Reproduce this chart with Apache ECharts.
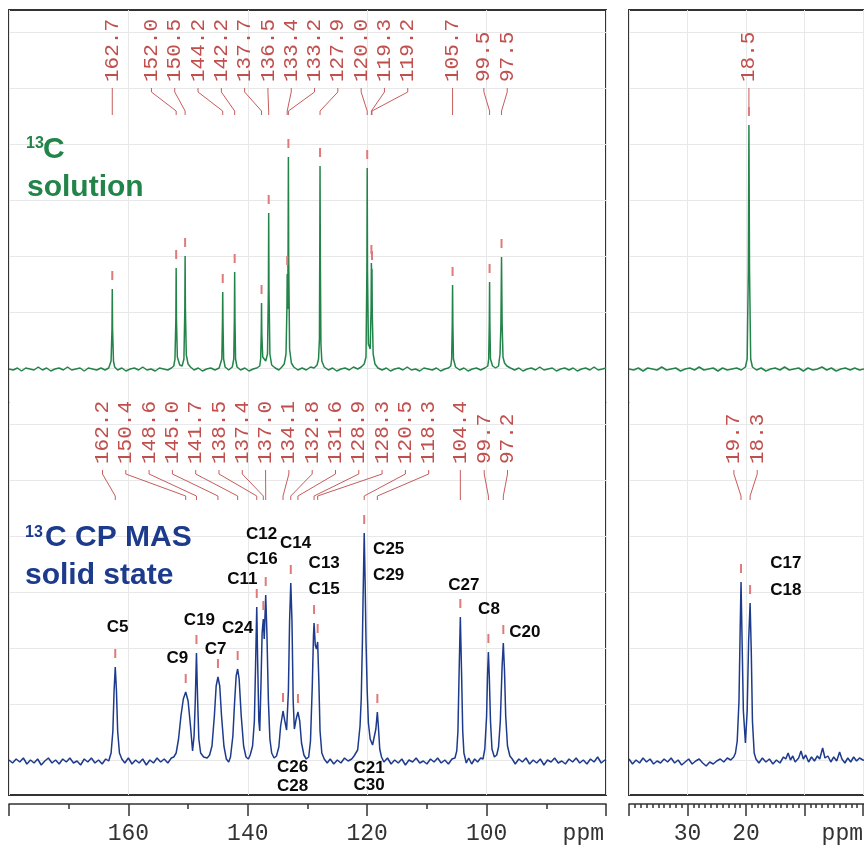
<!DOCTYPE html>
<html>
<head>
<meta charset="utf-8">
<script src="https://cdn.jsdelivr.net/npm/echarts@6/dist/echarts.min.js"></script>
<style>html,body{margin:0;padding:0;background:#fff}#nmr{width:864px;height:849px}</style>
</head>
<body>
<div id="nmr"></div>
<script>
// 13C spectra, [ppm, intensity]; intensity 0 = baseline of each trace
var solutionLeft = [
  [180,0],[179.3,-1],[178.6,1],[177.9,-2],[177.2,1],[176.5,0],[175.8,-1],[175.1,2],[174.4,-1],[173.7,1],[173.0,-2],[172.3,0],
  [171.6,1],[170.9,-1],[170.2,2],[169.5,-1],[168.8,0],[168.1,1],[167.4,-2],[166.7,1],[166.0,0],[165.3,-1],[164.6,1],[163.9,-1],[163.3,1],
  [163.1,2],[162.9,8],[162.75,40],[162.7,80],[162.65,40],[162.5,8],[162.3,2],
  [161.8,-1],[161.1,1],[160.4,-2],[159.7,0],[159.0,1],[158.3,-1],[157.6,2],[156.9,-1],[156.2,0],[155.5,-2],[154.8,1],[154.1,0],[153.4,-1],[152.8,1],[152.4,3],
  [152.2,10],[152.05,50],[152.0,101],[151.95,50],[151.8,12],[151.4,4],[151.0,3],[150.7,10],[150.55,60],[150.5,113],[150.45,60],[150.3,14],[150.0,5],[149.6,2],
  [149.0,-1],[148.3,1],[147.6,-2],[146.9,0],[146.2,1],[145.5,-1],[144.8,1],[144.5,3],
  [144.35,10],[144.25,45],[144.2,77],[144.15,45],[144.05,10],[143.8,2],[143.2,-1],[142.6,2],
  [142.35,10],[142.25,50],[142.2,97],[142.15,50],[142.05,10],[141.8,2],[141.2,-1],[140.5,1],[139.8,-2],[139.1,0],[138.5,1],[138.0,3],
  [137.85,10],[137.75,35],[137.7,66],[137.65,35],[137.5,12],[137.0,8],[136.7,15],[136.55,80],[136.5,156],[136.45,80],[136.3,15],[136.0,4],
  [135.4,1],[134.8,-1],[134.3,2],[133.9,5],
  [133.6,15],[133.45,60],[133.4,95],[133.32,60],[133.25,120],[133.2,212],[133.15,110],[133.0,20],[132.7,6],[132.3,2],
  [131.6,-1],[130.9,1],[130.2,-1],[129.5,2],[128.9,1],[128.4,4],
  [128.15,10],[128.0,30],[127.95,110],[127.9,203],[127.85,110],[127.75,25],[127.6,8],[127.2,2],
  [126.5,-1],[125.8,1],[125.1,-2],[124.4,0],[123.7,1],[123.0,-1],[122.3,2],[121.6,0],[121.0,2],[120.5,5],
  [120.2,12],[120.05,100],[120.0,201],[119.95,100],[119.8,25],[119.5,20],[119.35,60],[119.3,106],[119.25,95],[119.2,100],[119.15,55],[119.0,15],[118.7,5],
  [118.2,1],[117.5,-1],[116.8,1],[116.1,-2],[115.4,0],[114.7,1],[114.0,-1],[113.3,2],[112.6,-1],[111.9,0],[111.2,-2],[110.5,1],[109.8,0],
  [109.1,-1],[108.4,1],[107.7,-2],[107.0,0],[106.4,1],[106.0,3],
  [105.85,10],[105.75,45],[105.7,84],[105.65,45],[105.55,10],[105.2,2],[104.5,-1],[103.8,1],[103.1,-2],[102.4,0],[101.7,1],[101.0,-1],[100.3,1],[99.8,3],
  [99.65,10],[99.55,45],[99.5,87],[99.45,45],[99.35,10],[99.0,3],[98.5,1],[98.0,3],[97.75,15],
  [97.6,45],[97.5,112],[97.4,45],[97.25,12],[97.0,6],[96.6,3],[96.0,1],[95.3,-1],[94.6,1],[93.9,-2],[93.2,0],[92.5,1],[91.8,-1],[91.1,2],
  [90.4,-1],[89.7,0],[89.0,1],[88.3,-2],[87.6,0],[86.9,1],[86.2,-1],[85.5,1],[84.8,-2],[84.1,0],[83.4,1],[82.7,-1],[82.0,2],[81.3,-1],[80.6,0],[80,1]
];
var solutionRight = [
  [40,0],[39.2,-1],[38.4,1],[37.6,-2],[36.8,1],[36.0,0],[35.2,-1],[34.4,2],[33.6,-1],[32.8,0],[32.0,1],[31.2,-2],[30.4,0],[29.6,1],
  [28.8,-1],[28.0,2],[27.2,-1],[26.4,0],[25.6,1],[24.8,-2],[24.0,1],[23.2,-1],[22.4,0],[21.6,1],[20.8,-1],[20.1,2],
  [19.8,10],[19.6,100],[19.5,244],[19.4,100],[19.2,10],[18.9,2],
  [18.2,-1],[17.4,1],[16.6,-2],[15.8,0],[15.0,1],[14.2,-1],[13.4,2],[12.6,-1],[11.8,0],[11.0,1],[10.2,-2],[9.4,1],[8.6,-1],[7.8,0],
  [7.0,2],[6.2,-1],[5.4,1],[4.6,-2],[3.8,0],[3.0,1],[2.2,-1],[1.4,1],[0.6,-1],[-0.2,0],[-1,1]
];
var solidLeft = [
  [180,1],[179.4,-2],[178.8,2],[178.2,-1],[177.6,3],[177.0,-3],[176.4,1],[175.8,-2],[175.2,2],[174.6,-4],[174.0,0],[173.4,3],[172.8,-2],
  [172.2,1],[171.6,-3],[171.0,2],[170.4,-1],[169.8,3],[169.2,-2],[168.6,0],[168.0,-4],[167.4,2],[166.8,-1],[166.2,3],[165.6,-2],[165.0,1],
  [164.4,-3],[163.8,2],[163.3,0],
  [162.9,8],[162.6,30],[162.4,70],[162.2,94],[162.0,70],[161.8,30],[161.5,8],[161.1,2],
  [160.6,-2],[160.0,3],[159.4,-3],[158.8,1],[158.2,-2],[157.6,2],[157.0,-4],[156.4,1],[155.8,-2],[155.2,3],[154.6,-1],[154.0,2],[153.4,-2],[152.8,3],[152.4,4],
  [152.0,8],[151.6,22],[151.2,45],[150.8,62],[150.4,69],[150.0,60],[149.6,35],[149.25,10],
  [149.0,25],[148.8,60],[148.6,108],[148.4,60],[148.2,22],[147.9,8],[147.4,4],[146.8,3],[146.4,6],
  [146.0,15],[145.6,45],[145.3,75],[145.0,84],[144.7,75],[144.4,45],[144.0,15],[143.6,2],[143.2,-1],[142.9,4],
  [142.5,25],[142.2,60],[141.95,85],[141.7,92],[141.45,82],[141.1,45],[140.7,15],[140.3,4],[139.9,2],[139.6,6],
  [139.2,15],[138.9,40],[138.7,95],[138.5,154],[138.35,100],[138.15,40],[138.0,30],[137.8,75],[137.6,128],[137.4,142],[137.25,122],[137.0,166],
  [136.8,128],[136.55,60],[136.3,22],[136.0,8],[135.6,3],[135.2,5],
  [134.8,14],[134.5,35],[134.1,50],[133.8,40],[133.5,31],[133.2,70],[133.0,140],[132.8,178],[132.6,140],[132.4,60],[132.2,32],[131.9,42],
  [131.6,49],[131.3,40],[131.0,18],[130.6,6],[130.2,2],[129.8,4],
  [129.5,20],[129.2,75],[129.0,125],[128.9,138],[128.7,116],[128.5,112],[128.3,119],[128.1,80],[127.9,30],[127.6,8],[127.2,2],
  [126.7,-2],[126.2,2],[125.6,-3],[125.0,1],[124.4,-2],[123.8,3],[123.2,0],[122.6,2],
  [122.2,5],[121.6,11],[121.2,35],[121.0,62],[120.8,120],[120.7,160],[120.5,228],[120.35,180],[120.2,120],[120.0,70],[119.8,38],[119.5,22],
  [119.1,16],[118.8,18],[118.55,32],[118.3,49],[118.1,32],[117.9,12],[117.6,4],[117.2,-1],
  [116.6,3],[116.0,-3],[115.4,1],[114.8,-2],[114.2,2],[113.6,-4],[113.0,1],[112.4,-1],[111.8,3],[111.2,-2],[110.6,0],[110.0,-3],[109.4,2],
  [108.8,-1],[108.2,3],[107.6,-2],[107.0,1],[106.4,-3],[105.8,2],[105.3,3],
  [105.0,10],[104.8,30],[104.6,90],[104.4,144],[104.2,90],[104.0,30],[103.8,8],[103.4,-2],[103.0,3],[102.5,-3],[102.0,2],[101.5,-1],[101.0,3],[100.6,2],
  [100.3,12],[100.0,45],[99.85,85],[99.7,109],[99.55,85],[99.35,40],[99.1,12],[98.7,4],[98.3,6],
  [98.0,14],[97.7,40],[97.4,95],[97.2,118],[97.0,90],[96.8,45],[96.5,15],[96.1,5],[95.7,2],
  [95.2,-3],[94.6,2],[94.0,-1],[93.4,3],[92.8,-3],[92.2,1],[91.6,-2],[91.0,2],[90.4,-4],[89.8,1],[89.2,-1],[88.6,3],[88.0,-2],[87.4,0],
  [86.8,-3],[86.2,2],[85.6,-1],[85.0,3],[84.4,-2],[83.8,1],[83.2,-3],[82.6,2],[82.0,-1],[81.4,4],[80.8,-2],[80.2,1],[80,0]
];
var solidRight = [
  [40,2],[39.4,-3],[38.8,1],[38.2,-2],[37.6,3],[37.0,-1],[36.4,2],[35.8,-3],[35.2,0],[34.6,-2],[34.0,2],[33.4,-1],[32.8,3],[32.2,-2],
  [31.6,1],[31.0,-4],[30.4,-1],[29.8,2],[29.2,-3],[28.6,0],[28.0,2],[27.4,-2],[26.8,-5],[26.2,-1],[25.6,-3],[25.0,0],[24.4,2],[23.8,-1],
  [23.2,3],[22.6,1],[22.1,4],[21.8,8],[21.5,20],[21.2,60],[21.0,130],[20.85,179],[20.7,130],[20.45,50],[20.1,18],[19.8,50],[19.55,120],
  [19.3,158],[19.1,110],[18.9,40],[18.6,8],[18.3,2],[17.8,-2],[17.2,3],[16.6,-1],[16.0,2],[15.4,-3],[14.8,1],[14.2,-2],[13.6,4],[13.2,2],
  [12.8,8],[12.4,1],[12.0,5],[11.6,-1],[11.0,3],[10.6,10],[10.2,2],[9.8,6],[9.3,-1],[8.8,4],[8.3,0],[7.8,5],[7.4,2],[6.9,13],[6.5,3],
  [6.0,5],[5.5,-1],[5.0,4],[4.5,0],[4.0,9],[3.6,2],[3.1,-2],[2.6,3],[2.1,-1],[1.6,4],[1.1,0],[0.6,3],[0,1],[-1,0]
];

// picked peaks: position, height, printed shift
var solPeakLeft = [162.7,152.0,150.5,144.2,142.2,137.7,136.5,133.4,133.2,127.9,120.0,119.3,119.2,105.7,99.5,97.5];
var solHeightLeft = [80,101,113,77,97,66,156,95,212,203,201,106,100,84,87,112];
var solTextLeft = ['162.7','152.0','150.5','144.2','142.2','137.7','136.5','133.4','133.2','127.9','120.0','119.3','119.2','105.7','99.5','97.5'];
var solPeakRight = [19.5];
var solHeightRight = [244];
var solTextRight = ['18.5'];

var cpPeakLeft = [162.2,150.4,148.6,145.0,141.7,138.5,137.4,137.0,134.1,132.8,131.6,128.9,128.3,120.5,118.3,104.4,99.7,97.2];
var cpHeightLeft = [94,69,108,84,92,154,142,166,50,178,49,138,119,228,49,144,109,118];
var cpTextLeft = ['162.2','150.4','148.6','145.0','141.7','138.5','137.4','137.0','134.1','132.8','131.6','128.9','128.3','120.5','118.3','104.4','99.7','97.2'];
var cpPeakRight = [20.85,19.3];
var cpHeightRight = [179,158];
var cpTextRight = ['19.7','18.3'];

// carbon assignments [name, ppm, intensity]
var carbonLeft = [['C5',161.8,134],['C9',151.8,103],['C19',148.1,141],['C7',145.4,112],['C24',141.7,133],['C11',140.9,182],
  ['C16',137.6,202],['C12',137.7,227],['C14',132.0,218],['C13',127.2,198],['C15',127.2,172],['C25',116.4,212],['C29',116.4,186],
  ['C27',103.8,176],['C8',99.6,152],['C20',93.6,129],['C26',132.5,-6],['C28',132.5,-25],['C21',119.7,-7],['C30',119.7,-24]];
var carbonRight = [['C17',13.2,198],['C18',13.2,171]];

var GREEN = '#23844a', BLUE = '#1d3b8c', RED = '#c0504d';

// push crowded labels apart, keeping each cluster centred on its peaks
function spreadOut(xs, gap) {
  var order = xs.map(function (x, i) { return i; }).sort(function (a, b) { return xs[a] - xs[b]; });
  var groups = [];
  order.forEach(function (idx) {
    groups.push({ ids: [idx], mean: xs[idx] });
    while (groups.length > 1) {
      var b = groups[groups.length - 1], a = groups[groups.length - 2];
      var aEnd = a.mean + (a.ids.length - 1) * gap / 2;
      var bStart = b.mean - (b.ids.length - 1) * gap / 2;
      if (bStart - aEnd >= gap) break;
      var ids = a.ids.concat(b.ids);
      groups.splice(groups.length - 2, 2, { ids: ids, mean: (a.mean * a.ids.length + b.mean * b.ids.length) / ids.length });
    }
  });
  var out = [];
  groups.forEach(function (g) {
    g.ids.forEach(function (id, k) { out[id] = g.mean + (k - (g.ids.length - 1) / 2) * gap; });
  });
  return out;
}

function peakLabels(xIdx, yIdx, ppm, height, text, level, reach) {
  return {
    type: 'custom', xAxisIndex: xIdx, yAxisIndex: yIdx, silent: true, z: 6,
    data: ppm.map(function (p, i) { return [p, height[i]]; }),
    renderItem: function (params, api) {
      var xs = ppm.map(function (p) { return api.coord([p, 0])[0]; });
      var lx = spreadOut(xs, 23.3)[params.dataIndex];
      var top = api.coord([api.value(0), api.value(1)]);
      var y0 = api.coord([api.value(0), level])[1];
      return { type: 'group', children: [
        { type: 'text', x: lx, y: y0 - 6, rotation: Math.PI / 2,
          style: { text: text[params.dataIndex], fill: RED, fontSize: 21, fontFamily: 'Liberation Mono', align: 'left', verticalAlign: 'middle' } },
        { type: 'polyline', shape: { points: [[lx, y0], [lx, y0 + 4], [top[0], y0 + reach - 4], [top[0], y0 + reach]] },
          style: { stroke: '#c65c5c', lineWidth: 1, fill: null } },
        { type: 'line', shape: { x1: top[0], y1: top[1] - 18, x2: top[0], y2: top[1] - 9 },
          style: { stroke: '#e07a7a', lineWidth: 2 } }
      ]};
    }
  };
}

function trace(data, xIdx, yIdx, color) {
  return { type: 'line', xAxisIndex: xIdx, yAxisIndex: yIdx, data: data, symbol: 'none', showSymbol: false,
    silent: true, z: 3, lineStyle: { color: color, width: 1.5 } };
}

function carbons(list, xIdx, yIdx) {
  return { type: 'custom', xAxisIndex: xIdx, yAxisIndex: yIdx, silent: true, z: 7,
    data: list.map(function (c) { return [c[1], c[2]]; }),
    renderItem: function (params, api) {
      var p = api.coord([api.value(0), api.value(1)]);
      return { type: 'text', x: p[0], y: p[1],
        style: { text: list[params.dataIndex][0], fill: '#0a0a0a', fontSize: 17, fontWeight: 'bold',
          fontFamily: 'Liberation Sans', align: 'center', verticalAlign: 'middle' } };
    } };
}

var axisLineStyle = { color: '#333', width: 1.5 };
var gridBox = { show: true, borderColor: '#333', borderWidth: 2, backgroundColor: '#fff', containLabel: false, outerBoundsMode: 'none' };
function box(o) { return Object.assign({}, gridBox, o); }
function plain(o) { return Object.assign({ show: false, containLabel: false, outerBoundsMode: 'none' }, o); }

var myChart = echarts.init(document.getElementById('nmr'));
var option = {
  animation: false,
  grid: [
    box({ left: 9, top: 10, width: 597, height: 785 }),
    box({ left: 629, top: 10, width: 292.5, height: 785 }),
    plain({ left: 9, top: 32, width: 597, height: 728 }),
    plain({ left: 629, top: 32, width: 292.5, height: 728 })
  ],
  xAxis: [
    { type: 'value', gridIndex: 0, min: 80, max: 180, interval: 20, inverse: true, position: 'bottom', offset: 9,
      axisLine: { onZero: false, lineStyle: axisLineStyle }, axisTick: { length: 12, lineStyle: axisLineStyle },
      minorTick: { show: true, splitNumber: 2, length: 5, lineStyle: axisLineStyle },
      splitLine: { show: true, lineStyle: { color: '#e8e8e8', width: 1 } },
      axisLabel: { margin: 18, color: '#333', fontSize: 23, fontFamily: 'Liberation Mono',
        formatter: function (v) { return (v > 80 && v < 180) ? String(v) : ''; } } },
    { type: 'value', gridIndex: 1, min: -10, max: 40, interval: 10, inverse: true, position: 'bottom', offset: 9,
      axisLine: { onZero: false, lineStyle: axisLineStyle }, axisTick: { length: 12, lineStyle: axisLineStyle },
      minorTick: { show: true, splitNumber: 10, length: 4, lineStyle: axisLineStyle },
      splitLine: { show: true, lineStyle: { color: '#e8e8e8', width: 1 } },
      axisLabel: { margin: 18, color: '#333', fontSize: 23, fontFamily: 'Liberation Mono',
        formatter: function (v) { return (v === 20 || v === 30) ? String(v) : ''; } } },
    { type: 'value', gridIndex: 2, min: 80, max: 180, inverse: true, show: false },
    { type: 'value', gridIndex: 3, min: -10, max: 40, inverse: true, show: false }
  ],
  yAxis: [
    { type: 'value', gridIndex: 0, min: -34, max: 751, show: false },
    { type: 'value', gridIndex: 0, min: -426, max: 359, show: false },
    { type: 'value', gridIndex: 1, min: -34, max: 751, show: false },
    { type: 'value', gridIndex: 1, min: -426, max: 359, show: false },
    { type: 'value', gridIndex: 2, min: 0, max: 728, interval: 56, axisLine: { show: false }, axisTick: { show: false },
      axisLabel: { show: false }, splitLine: { show: true, lineStyle: { color: '#e8e8e8', width: 1 } } },
    { type: 'value', gridIndex: 3, min: 0, max: 728, interval: 56, axisLine: { show: false }, axisTick: { show: false },
      axisLabel: { show: false }, splitLine: { show: true, lineStyle: { color: '#e8e8e8', width: 1 } } }
  ],
  series: [
    trace(solutionLeft, 0, 1, GREEN),
    trace(solutionRight, 1, 3, GREEN),
    trace(solidLeft, 0, 0, BLUE),
    trace(solidRight, 1, 2, BLUE),
    peakLabels(0, 1, solPeakLeft, solHeightLeft, solTextLeft, 281, 27),
    peakLabels(1, 3, solPeakRight, solHeightRight, solTextRight, 281, 27),
    peakLabels(0, 0, cpPeakLeft, cpHeightLeft, cpTextLeft, 291, 30),
    peakLabels(1, 2, cpPeakRight, cpHeightRight, cpTextRight, 291, 30),
    carbons(carbonLeft, 0, 0),
    carbons(carbonRight, 1, 2)
  ],
  graphic: [
    { type: 'text', left: 26, top: 136, z: 10, style: { text: '13', fill: GREEN, font: 'bold 16px "Liberation Sans"' } },
    { type: 'text', left: 43, top: 135, z: 10, style: { text: 'C', fill: GREEN, font: 'bold 30px "Liberation Sans"' } },
    { type: 'text', left: 27, top: 173, z: 10, style: { text: 'solution', fill: GREEN, font: 'bold 30px "Liberation Sans"' } },
    { type: 'text', left: 25, top: 525, z: 10, style: { text: '13', fill: BLUE, font: 'bold 16px "Liberation Sans"' } },
    { type: 'text', left: 45, top: 523, z: 10, style: { text: 'C CP MAS', fill: BLUE, font: 'bold 30px "Liberation Sans"' } },
    { type: 'text', left: 25, top: 561, z: 10, style: { text: 'solid state', fill: BLUE, font: 'bold 30px "Liberation Sans"' } },
    { type: 'text', right: 260, top: 822, z: 10, style: { text: 'ppm', fill: '#333', font: '23px "Liberation Mono"' } },
    { type: 'text', right: 1, top: 822, z: 10, style: { text: 'ppm', fill: '#333', font: '23px "Liberation Mono"' } }
  ]
};
myChart.setOption(option, true);
</script>
</body>
</html>
